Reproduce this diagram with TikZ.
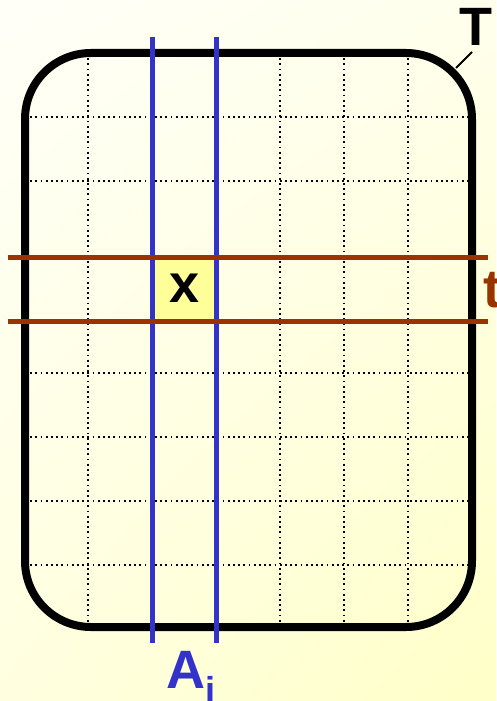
\documentclass[tikz,border=0pt]{standalone}
\usepackage{fontspec}
\setmainfont{Liberation Sans}
\usetikzlibrary{shadings}
\definecolor{bgTL}{HTML}{FFFFF8}
\definecolor{bgTR}{HTML}{FFFFEC}
\definecolor{bgBL}{HTML}{FFFFE0}
\definecolor{bgBR}{HTML}{FFFFC8}
\definecolor{cellyellow}{HTML}{FFFF99}
\definecolor{lineblue}{HTML}{3333CC}
\definecolor{linebrown}{HTML}{993300}
\tikzset{
  gridline/.style={line width=1.8pt, dash pattern=on 1.8pt off 3.4pt},
  boxline/.style={line width=8pt, rounded corners=66pt},
  blueline/.style={line width=5pt, lineblue},
  brownline/.style={line width=5pt, linebrown},
  bigtext/.style={font=\fontsize{54}{54}\selectfont\bfseries, inner sep=0pt},
}
\begin{document}
\begin{tikzpicture}[x=1pt,y=-1pt]
\useasboundingbox (0,0) rectangle (496,701);
\shade[upper left=bgTL, upper right=bgTR, lower left=bgBL, lower right=bgBR] (0,0) rectangle (496,701);
% highlighted cell
\fill[cellyellow] (152,257) rectangle (216,321);
% dotted grid
\foreach \gx in {88,280,344,408} \draw[gridline] (\gx,53) -- (\gx,627);
\foreach \gx in {152,216} \draw[gridline] (\gx,53) -- (\gx,627);
\foreach \gy in {117,181,373,437,501,565} \draw[gridline] (25,\gy) -- (472,\gy);
% table outline
\draw[boxline] (25,53) rectangle (472,627);
% column lines
\coordinate (c1top) at (152,37); \coordinate (c1bot) at (152,643);
\coordinate (c2top) at (216,37); \coordinate (c2bot) at (216,643);
\draw[blueline] (c1top) -- (c1bot);
\draw[blueline] (c2top) -- (c2bot);
% row lines
\coordinate (r1l) at (8,257); \coordinate (r1r) at (488,257);
\coordinate (r2l) at (8,321); \coordinate (r2r) at (488,321);
\draw[brownline] (r1l) -- (r1r);
\draw[brownline] (r2l) -- (r2r);
% labels
\node[bigtext, anchor=base] (x) at (185,302) {x};
\node[bigtext, anchor=base] (T) at (476,46) {T};
\coordinate (Tend) at (456,68);
\draw[line width=2pt] (Tend) -- (472,52);
\node[bigtext, anchor=base west, text=linebrown] (t) at (483,307) {t};
\node[bigtext, anchor=base, text=lineblue] (A) at (191,688) {A\raisebox{-14pt}{\fontsize{36}{36}\selectfont\bfseries i}};
\end{tikzpicture}
\end{document}
